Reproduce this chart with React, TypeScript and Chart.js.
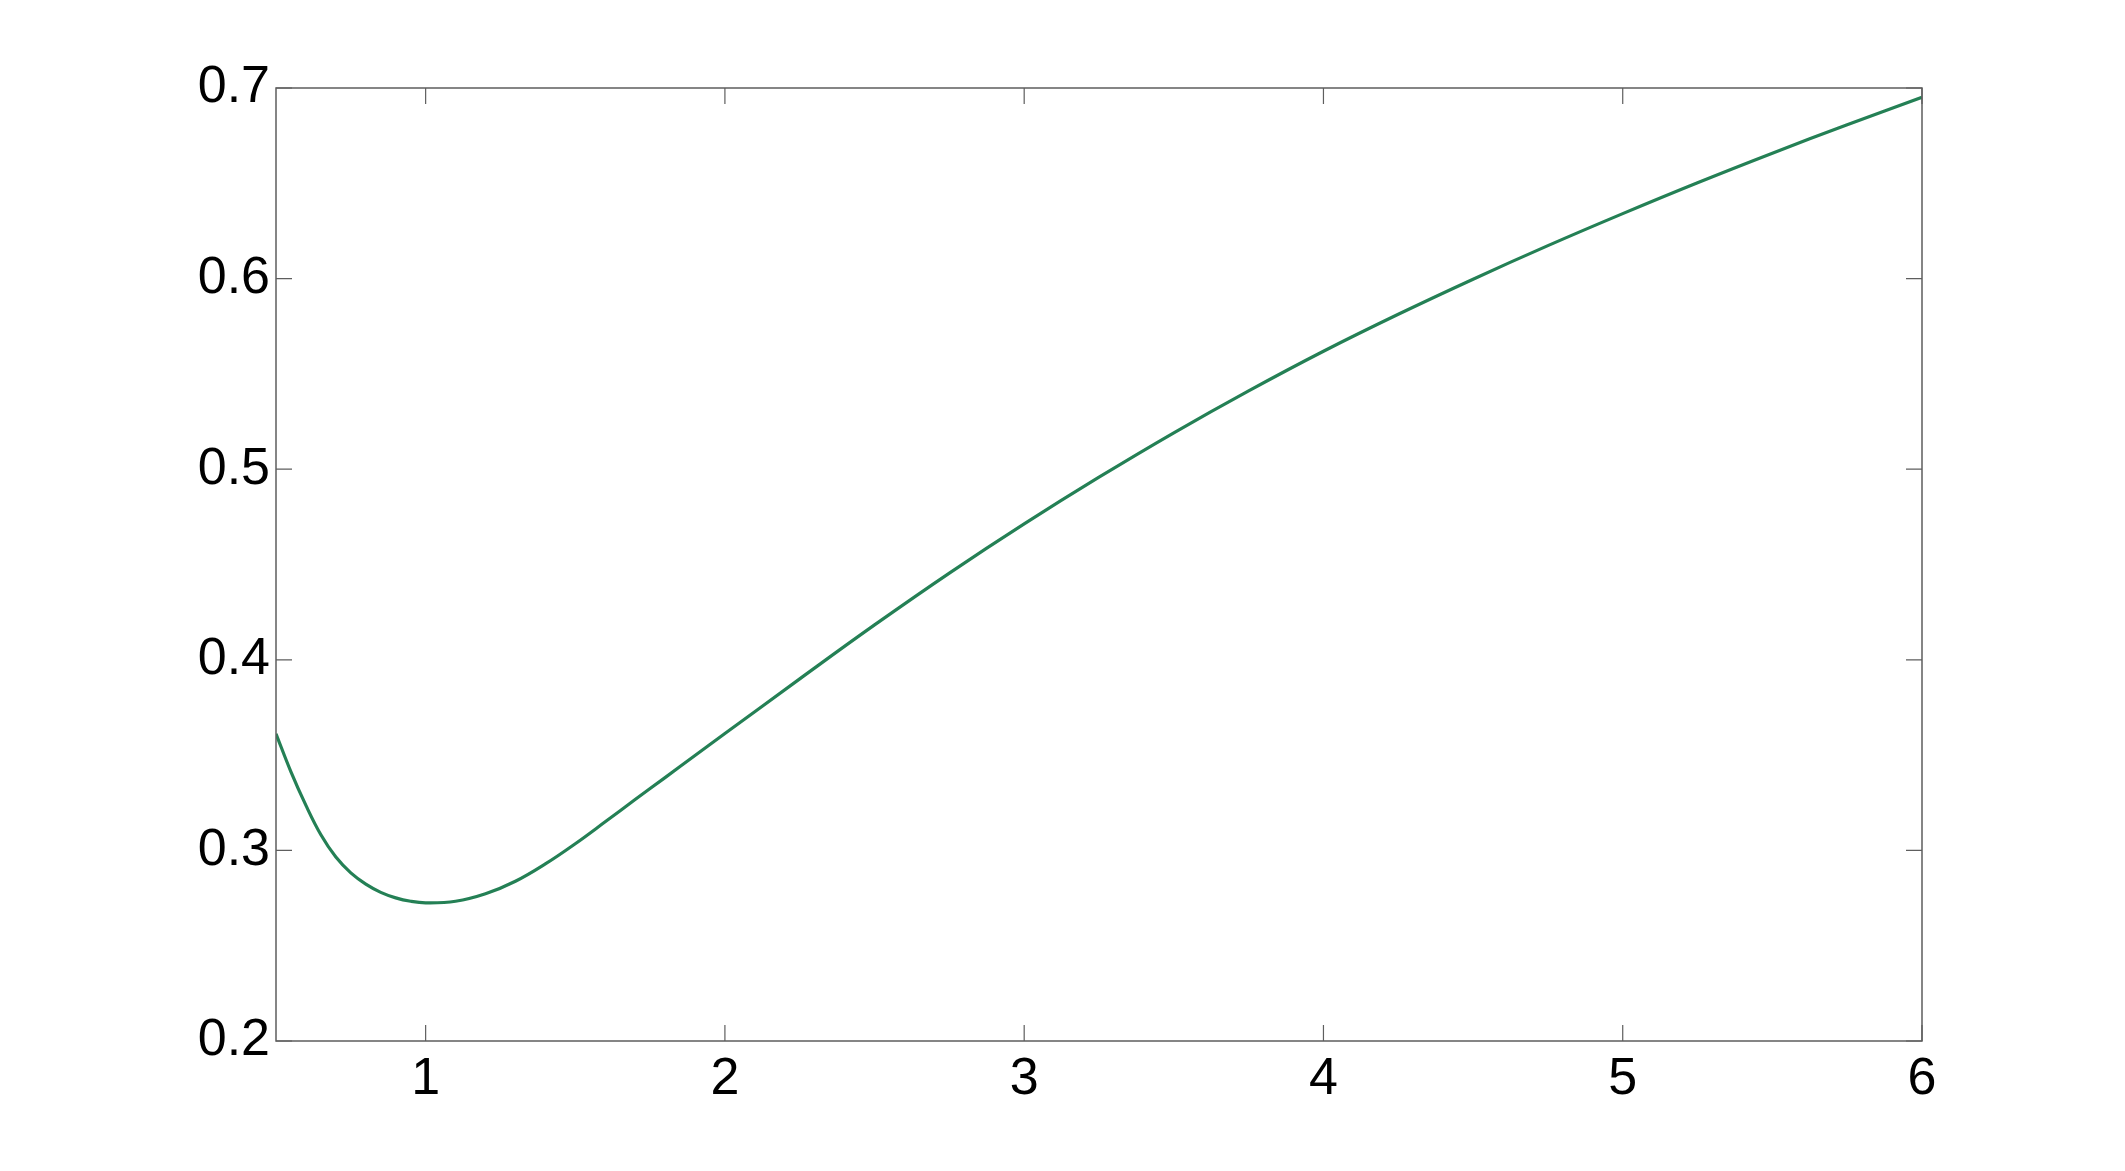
import React, { useEffect, useRef } from "react";
import { Chart, registerables } from "chart.js";

Chart.register(...registerables);

const X_VALUES = [0.5, 0.55, 0.6, 0.65, 0.7, 0.75, 0.8, 0.85, 0.9, 0.95, 1.0, 1.1, 1.2, 1.3, 1.4, 1.5, 1.6, 1.7, 1.8, 1.9, 2.0, 2.25, 2.5, 2.75, 3.0, 3.25, 3.5, 3.75, 4.0, 4.25, 4.5, 4.75, 5.0, 5.25, 5.5, 5.75, 6.0];
const Y_VALUES = [0.3612, 0.3412, 0.3236, 0.3082, 0.2965, 0.2882, 0.2823, 0.278, 0.2751, 0.2733, 0.2725, 0.2733, 0.2772, 0.2838, 0.2929, 0.3035, 0.315, 0.3267, 0.3382, 0.3498, 0.3613, 0.39, 0.4183, 0.4455, 0.4713, 0.4958, 0.5191, 0.5411, 0.5619, 0.5813, 0.5997, 0.6173, 0.6341, 0.6503, 0.6658, 0.6807, 0.6951];
const X_TICKS = [1, 2, 3, 4, 5, 6];
const Y_TICKS = [0.2, 0.3, 0.4, 0.5, 0.6, 0.7];

const AXIS_COLOR = "#5e5e5e";
const LINE_COLOR = "#248055";
const TICK_LEN = 16;

const boxPlugin = {
  id: "matlabBox",
  afterDraw(chart: any) {
    const { ctx, chartArea, scales } = chart;
    const { left, right, top, bottom } = chartArea;
    ctx.save();
    ctx.strokeStyle = AXIS_COLOR;
    ctx.lineWidth = 1.5;
    ctx.beginPath();
    ctx.rect(left, top, right - left, bottom - top);
    ctx.stroke();
    ctx.lineWidth = 1.2;
    ctx.beginPath();
    for (const v of X_TICKS) {
      const px = scales.x.getPixelForValue(v);
      ctx.moveTo(px, bottom);
      ctx.lineTo(px, bottom - TICK_LEN);
      ctx.moveTo(px, top);
      ctx.lineTo(px, top + TICK_LEN);
    }
    for (const v of Y_TICKS) {
      const py = scales.y.getPixelForValue(v);
      ctx.moveTo(left, py);
      ctx.lineTo(left + TICK_LEN, py);
      ctx.moveTo(right, py);
      ctx.lineTo(right - TICK_LEN, py);
    }
    ctx.stroke();
    ctx.restore();
  },
};

export default function App() {
  const canvasRef = useRef<HTMLCanvasElement | null>(null);

  useEffect(() => {
    document.body.style.margin = "0";
    const canvas = canvasRef.current;
    if (!canvas) return;
    const points = X_VALUES.map((x, i) => ({ x, y: Y_VALUES[i] }));
    const font = { family: "'Liberation Sans', Arial, Helvetica, sans-serif", size: 52 };
    const chart = new Chart(canvas, {
      type: "line",
      data: {
        datasets: [
          {
            data: points,
            borderColor: LINE_COLOR,
            borderWidth: 3.2,
            pointRadius: 0,
            tension: 0.4,
            fill: false,
          },
        ],
      },
      options: {
        animation: false,
        responsive: false,
        devicePixelRatio: 1,
        layout: { padding: { top: 88, right: 203, left: 0, bottom: 0 } },
        plugins: { legend: { display: false }, tooltip: { enabled: false } },
        scales: {
          x: {
            type: "linear",
            min: 0.5,
            max: 6,
            grid: { display: false, tickLength: 0 },
            border: { display: false },
            afterBuildTicks: (s: any) => {
              s.ticks = X_TICKS.map((v) => ({ value: v }));
            },
            afterFit: (s: any) => {
              s.height = 130;
              s.paddingLeft = 0;
              s.paddingRight = 0;
            },
            ticks: {
              color: "#000",
              font,
              padding: 7,
              maxRotation: 0,
              callback: (v: any) => String(v),
            },
          },
          y: {
            type: "linear",
            min: 0.2,
            max: 0.7,
            grid: { display: false, tickLength: 0 },
            border: { display: false },
            afterBuildTicks: (s: any) => {
              s.ticks = Y_TICKS.map((v) => ({ value: v }));
            },
            afterFit: (s: any) => {
              s.width = 276;
              s.paddingTop = 0;
              s.paddingBottom = 0;
            },
            ticks: {
              color: "#000",
              font,
              padding: 6,
              callback: (v: any) => Number(v).toFixed(1),
            },
          },
        },
      },
      plugins: [boxPlugin],
    });
    return () => chart.destroy();
  }, []);

  return (
    <div style={{ width: 2125, height: 1171, background: "#fff" }}>
      <canvas ref={canvasRef} width={2125} height={1171} style={{ display: "block" }} />
    </div>
  );
}
